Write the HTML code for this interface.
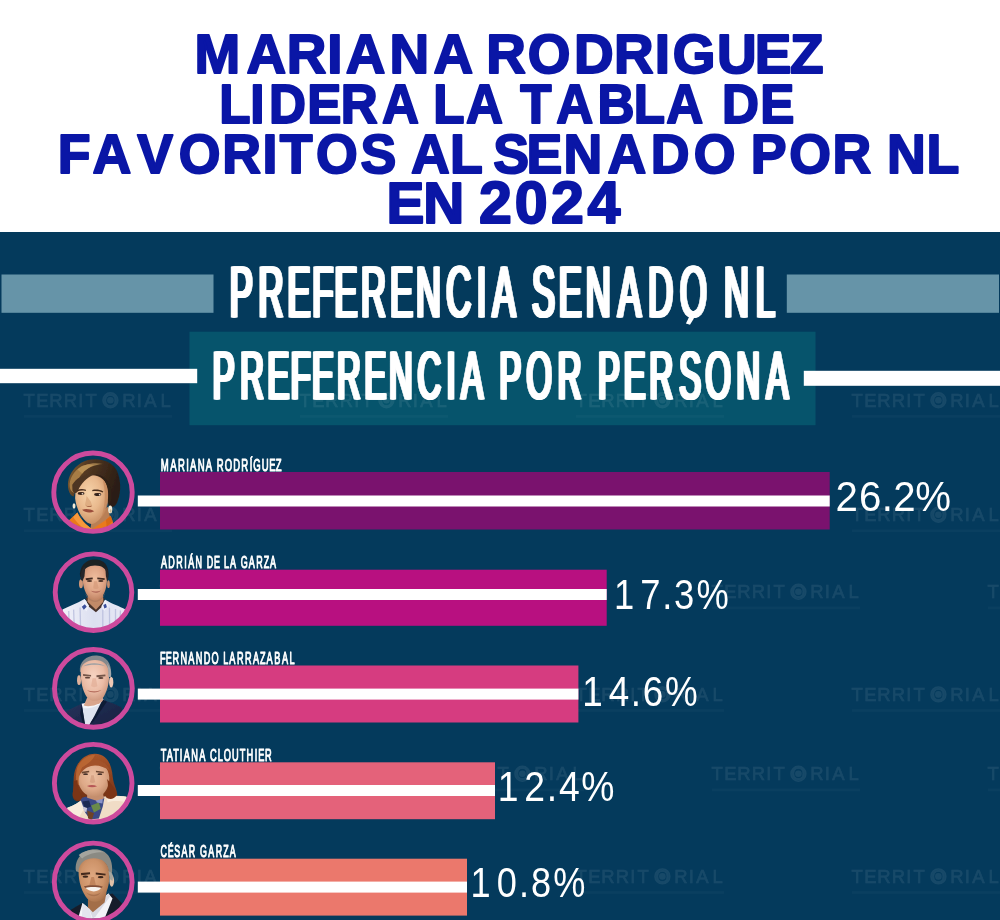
<!DOCTYPE html>
<html lang="es"><head><meta charset="utf-8"><title>Preferencia Senado NL</title>
<style>
html,body{margin:0;padding:0;background:#fff}
body{width:1000px;height:920px;overflow:hidden}
svg{display:block;font-family:"Liberation Sans",sans-serif}
</style></head><body>
<svg width="1000" height="920" viewBox="0 0 1000 920">
<defs><filter id="soft" x="-5%" y="-5%" width="110%" height="110%"><feGaussianBlur stdDeviation="0.55"/></filter>
<clipPath id="cp1"><circle cx="93" cy="492.2" r="37.5"/></clipPath>
<clipPath id="cp2"><circle cx="93.5" cy="592.2" r="37.5"/></clipPath>
<clipPath id="cp3"><circle cx="93.4" cy="688.4" r="37.5"/></clipPath>
<clipPath id="cp4"><circle cx="93.2" cy="783.2" r="37.5"/></clipPath>
<clipPath id="cp5"><circle cx="93.2" cy="882" r="37.5"/></clipPath>
</defs>
<rect x="0" y="232" width="1000" height="688" fill="#043a5c"/>
<text transform="translate(0,72.60) scale(0.9727,1)" x="199.9 253.3 294.7 336.5 355.4 400.4 445.6 445.6 499.9 542.6 590.2 631.2 673.1 691.6 737.2 776.0 812.3" font-size="56.44" font-weight="700" fill="#0a16a6" stroke="#0a16a6" stroke-width="2.0" stroke-linejoin="round" style="vector-effect:non-scaling-stroke">MARIANA RODRIGUEZ</text>
<text transform="translate(0,122.60) scale(0.9064,1)" x="242.0 276.1 296.9 339.0 375.9 421.5 421.5 478.0 514.0 514.0 573.9 613.8 659.2 699.3 735.2 735.2 796.6 838.7" font-size="56.44" font-weight="700" fill="#0a16a6" stroke="#0a16a6" stroke-width="2.0" stroke-linejoin="round" style="vector-effect:non-scaling-stroke">LIDERA LA TABLA DE</text>
<text transform="translate(0,172.60) scale(0.9515,1)" x="60.8 97.3 144.2 188.0 233.5 276.0 294.1 332.0 378.8 378.8 432.0 472.9 472.9 518.3 553.4 592.3 638.5 684.0 729.1 729.1 789.1 829.5 875.0 875.0 932.2 973.7" font-size="56.44" font-weight="700" fill="#0a16a6" stroke="#0a16a6" stroke-width="2.0" stroke-linejoin="round" style="vector-effect:non-scaling-stroke">FAVORITOS AL SENADO POR NL</text>
<text transform="translate(0,222.60) scale(1.0065,1)" x="384.0 420.6 420.6 476.0 511.4 547.5 583.7" font-size="56.44" font-weight="700" fill="#0a16a6" stroke="#0a16a6" stroke-width="2.0" stroke-linejoin="round" style="vector-effect:non-scaling-stroke">EN <tspan font-size="58.78">2024</tspan></text>
<rect x="1.5" y="274.5" width="212" height="38.3" fill="#6694a8"/>
<rect x="786.8" y="274.5" width="212.2" height="38.3" fill="#6694a8"/>
<rect x="189.5" y="331.7" width="626" height="93.5" fill="#06546c"/>
<g opacity="0.075"><text x="29.2 42.4 56.0 70.4 80.8 91.2 110.4 128.8 139.2 150.4 165.6" y="406.6" text-anchor="middle" font-size="18.4" fill="#fff" stroke="#fff" stroke-width="0.6">TERRITORIAL</text><circle cx="110.4" cy="400.3" r="7.4" fill="none" stroke="#fff" stroke-width="1.6"/><circle cx="110.4" cy="400.3" r="3.3" fill="#fff"/><rect x="24" y="415.1" width="148" height="2.6" fill="#fff" fill-opacity="0.35"/><text x="305.2 318.4 332.0 346.4 356.8 367.2 386.4 404.8 415.2 426.4 441.6" y="406.6" text-anchor="middle" font-size="18.4" fill="#fff" stroke="#fff" stroke-width="0.6">TERRITORIAL</text><circle cx="386.4" cy="400.3" r="7.4" fill="none" stroke="#fff" stroke-width="1.6"/><circle cx="386.4" cy="400.3" r="3.3" fill="#fff"/><rect x="300" y="415.1" width="148" height="2.6" fill="#fff" fill-opacity="0.35"/><text x="581.2 594.4 608.0 622.4 632.8 643.2 662.4 680.8 691.2 702.4 717.6" y="406.6" text-anchor="middle" font-size="18.4" fill="#fff" stroke="#fff" stroke-width="0.6">TERRITORIAL</text><circle cx="662.4" cy="400.3" r="7.4" fill="none" stroke="#fff" stroke-width="1.6"/><circle cx="662.4" cy="400.3" r="3.3" fill="#fff"/><rect x="576" y="415.1" width="148" height="2.6" fill="#fff" fill-opacity="0.35"/><text x="857.2 870.4 884.0 898.4 908.8 919.2 938.4 956.8 967.2 978.4 993.6" y="406.6" text-anchor="middle" font-size="18.4" fill="#fff" stroke="#fff" stroke-width="0.6">TERRITORIAL</text><circle cx="938.4" cy="400.3" r="7.4" fill="none" stroke="#fff" stroke-width="1.6"/><circle cx="938.4" cy="400.3" r="3.3" fill="#fff"/><rect x="852" y="415.1" width="148" height="2.6" fill="#fff" fill-opacity="0.35"/><text x="29.2 42.4 56.0 70.4 80.8 91.2 110.4 128.8 139.2 150.4 165.6" y="521.0" text-anchor="middle" font-size="18.4" fill="#fff" stroke="#fff" stroke-width="0.6">TERRITORIAL</text><circle cx="110.4" cy="514.7" r="7.4" fill="none" stroke="#fff" stroke-width="1.6"/><circle cx="110.4" cy="514.7" r="3.3" fill="#fff"/><rect x="24" y="529.5" width="148" height="2.6" fill="#fff" fill-opacity="0.35"/><text x="857.2 870.4 884.0 898.4 908.8 919.2 938.4 956.8 967.2 978.4 993.6" y="521.0" text-anchor="middle" font-size="18.4" fill="#fff" stroke="#fff" stroke-width="0.6">TERRITORIAL</text><circle cx="938.4" cy="514.7" r="7.4" fill="none" stroke="#fff" stroke-width="1.6"/><circle cx="938.4" cy="514.7" r="3.3" fill="#fff"/><rect x="852" y="529.5" width="148" height="2.6" fill="#fff" fill-opacity="0.35"/><text x="165.2 178.4 192.0 206.4 216.8 227.2 246.4 264.8 275.2 286.4 301.6" y="598.1" text-anchor="middle" font-size="18.4" fill="#fff" stroke="#fff" stroke-width="0.6">TERRITORIAL</text><circle cx="246.4" cy="591.8" r="7.4" fill="none" stroke="#fff" stroke-width="1.6"/><circle cx="246.4" cy="591.8" r="3.3" fill="#fff"/><rect x="160" y="606.6" width="148" height="2.6" fill="#fff" fill-opacity="0.35"/><text x="441.2 454.4 468.0 482.4 492.8 503.2 522.4 540.8 551.2 562.4 577.6" y="598.1" text-anchor="middle" font-size="18.4" fill="#fff" stroke="#fff" stroke-width="0.6">TERRITORIAL</text><circle cx="522.4" cy="591.8" r="7.4" fill="none" stroke="#fff" stroke-width="1.6"/><circle cx="522.4" cy="591.8" r="3.3" fill="#fff"/><rect x="436" y="606.6" width="148" height="2.6" fill="#fff" fill-opacity="0.35"/><text x="717.2 730.4 744.0 758.4 768.8 779.2 798.4 816.8 827.2 838.4 853.6" y="598.1" text-anchor="middle" font-size="18.4" fill="#fff" stroke="#fff" stroke-width="0.6">TERRITORIAL</text><circle cx="798.4" cy="591.8" r="7.4" fill="none" stroke="#fff" stroke-width="1.6"/><circle cx="798.4" cy="591.8" r="3.3" fill="#fff"/><rect x="712" y="606.6" width="148" height="2.6" fill="#fff" fill-opacity="0.35"/><text x="993.2 1006.4 1020.0 1034.4 1044.8 1055.2 1074.4 1092.8 1103.2 1114.4 1129.6" y="598.1" text-anchor="middle" font-size="18.4" fill="#fff" stroke="#fff" stroke-width="0.6">TERRITORIAL</text><circle cx="1074.4" cy="591.8" r="7.4" fill="none" stroke="#fff" stroke-width="1.6"/><circle cx="1074.4" cy="591.8" r="3.3" fill="#fff"/><rect x="988" y="606.6" width="148" height="2.6" fill="#fff" fill-opacity="0.35"/><text x="29.2 42.4 56.0 70.4 80.8 91.2 110.4 128.8 139.2 150.4 165.6" y="700.7" text-anchor="middle" font-size="18.4" fill="#fff" stroke="#fff" stroke-width="0.6">TERRITORIAL</text><circle cx="110.4" cy="694.4" r="7.4" fill="none" stroke="#fff" stroke-width="1.6"/><circle cx="110.4" cy="694.4" r="3.3" fill="#fff"/><rect x="24" y="709.2" width="148" height="2.6" fill="#fff" fill-opacity="0.35"/><text x="305.2 318.4 332.0 346.4 356.8 367.2 386.4 404.8 415.2 426.4 441.6" y="700.7" text-anchor="middle" font-size="18.4" fill="#fff" stroke="#fff" stroke-width="0.6">TERRITORIAL</text><circle cx="386.4" cy="694.4" r="7.4" fill="none" stroke="#fff" stroke-width="1.6"/><circle cx="386.4" cy="694.4" r="3.3" fill="#fff"/><rect x="300" y="709.2" width="148" height="2.6" fill="#fff" fill-opacity="0.35"/><text x="581.2 594.4 608.0 622.4 632.8 643.2 662.4 680.8 691.2 702.4 717.6" y="700.7" text-anchor="middle" font-size="18.4" fill="#fff" stroke="#fff" stroke-width="0.6">TERRITORIAL</text><circle cx="662.4" cy="694.4" r="7.4" fill="none" stroke="#fff" stroke-width="1.6"/><circle cx="662.4" cy="694.4" r="3.3" fill="#fff"/><rect x="576" y="709.2" width="148" height="2.6" fill="#fff" fill-opacity="0.35"/><text x="857.2 870.4 884.0 898.4 908.8 919.2 938.4 956.8 967.2 978.4 993.6" y="700.7" text-anchor="middle" font-size="18.4" fill="#fff" stroke="#fff" stroke-width="0.6">TERRITORIAL</text><circle cx="938.4" cy="694.4" r="7.4" fill="none" stroke="#fff" stroke-width="1.6"/><circle cx="938.4" cy="694.4" r="3.3" fill="#fff"/><rect x="852" y="709.2" width="148" height="2.6" fill="#fff" fill-opacity="0.35"/><text x="165.2 178.4 192.0 206.4 216.8 227.2 246.4 264.8 275.2 286.4 301.6" y="780.1" text-anchor="middle" font-size="18.4" fill="#fff" stroke="#fff" stroke-width="0.6">TERRITORIAL</text><circle cx="246.4" cy="773.8" r="7.4" fill="none" stroke="#fff" stroke-width="1.6"/><circle cx="246.4" cy="773.8" r="3.3" fill="#fff"/><rect x="160" y="788.6" width="148" height="2.6" fill="#fff" fill-opacity="0.35"/><text x="441.2 454.4 468.0 482.4 492.8 503.2 522.4 540.8 551.2 562.4 577.6" y="780.1" text-anchor="middle" font-size="18.4" fill="#fff" stroke="#fff" stroke-width="0.6">TERRITORIAL</text><circle cx="522.4" cy="773.8" r="7.4" fill="none" stroke="#fff" stroke-width="1.6"/><circle cx="522.4" cy="773.8" r="3.3" fill="#fff"/><rect x="436" y="788.6" width="148" height="2.6" fill="#fff" fill-opacity="0.35"/><text x="717.2 730.4 744.0 758.4 768.8 779.2 798.4 816.8 827.2 838.4 853.6" y="780.1" text-anchor="middle" font-size="18.4" fill="#fff" stroke="#fff" stroke-width="0.6">TERRITORIAL</text><circle cx="798.4" cy="773.8" r="7.4" fill="none" stroke="#fff" stroke-width="1.6"/><circle cx="798.4" cy="773.8" r="3.3" fill="#fff"/><rect x="712" y="788.6" width="148" height="2.6" fill="#fff" fill-opacity="0.35"/><text x="993.2 1006.4 1020.0 1034.4 1044.8 1055.2 1074.4 1092.8 1103.2 1114.4 1129.6" y="780.1" text-anchor="middle" font-size="18.4" fill="#fff" stroke="#fff" stroke-width="0.6">TERRITORIAL</text><circle cx="1074.4" cy="773.8" r="7.4" fill="none" stroke="#fff" stroke-width="1.6"/><circle cx="1074.4" cy="773.8" r="3.3" fill="#fff"/><rect x="988" y="788.6" width="148" height="2.6" fill="#fff" fill-opacity="0.35"/><text x="29.2 42.4 56.0 70.4 80.8 91.2 110.4 128.8 139.2 150.4 165.6" y="882.7" text-anchor="middle" font-size="18.4" fill="#fff" stroke="#fff" stroke-width="0.6">TERRITORIAL</text><circle cx="110.4" cy="876.4" r="7.4" fill="none" stroke="#fff" stroke-width="1.6"/><circle cx="110.4" cy="876.4" r="3.3" fill="#fff"/><rect x="24" y="891.2" width="148" height="2.6" fill="#fff" fill-opacity="0.35"/><text x="305.2 318.4 332.0 346.4 356.8 367.2 386.4 404.8 415.2 426.4 441.6" y="882.7" text-anchor="middle" font-size="18.4" fill="#fff" stroke="#fff" stroke-width="0.6">TERRITORIAL</text><circle cx="386.4" cy="876.4" r="7.4" fill="none" stroke="#fff" stroke-width="1.6"/><circle cx="386.4" cy="876.4" r="3.3" fill="#fff"/><rect x="300" y="891.2" width="148" height="2.6" fill="#fff" fill-opacity="0.35"/><text x="581.2 594.4 608.0 622.4 632.8 643.2 662.4 680.8 691.2 702.4 717.6" y="882.7" text-anchor="middle" font-size="18.4" fill="#fff" stroke="#fff" stroke-width="0.6">TERRITORIAL</text><circle cx="662.4" cy="876.4" r="7.4" fill="none" stroke="#fff" stroke-width="1.6"/><circle cx="662.4" cy="876.4" r="3.3" fill="#fff"/><rect x="576" y="891.2" width="148" height="2.6" fill="#fff" fill-opacity="0.35"/><text x="857.2 870.4 884.0 898.4 908.8 919.2 938.4 956.8 967.2 978.4 993.6" y="882.7" text-anchor="middle" font-size="18.4" fill="#fff" stroke="#fff" stroke-width="0.6">TERRITORIAL</text><circle cx="938.4" cy="876.4" r="7.4" fill="none" stroke="#fff" stroke-width="1.6"/><circle cx="938.4" cy="876.4" r="3.3" fill="#fff"/><rect x="852" y="891.2" width="148" height="2.6" fill="#fff" fill-opacity="0.35"/></g>
<rect x="0" y="368.8" width="197.2" height="14.4" fill="#fff"/>
<rect x="803.8" y="370.8" width="196.2" height="15" fill="#fff"/>
<g style="filter:drop-shadow(1.50px 0 0 #fff) drop-shadow(-1.50px 0 0 #fff)"><text transform="translate(0,316.80) scale(0.4826,1)" x="476.9 536.9 596.8 647.9 694.4 749.3 809.2 863.0 925.9 989.1 1021.5 1021.5 1103.5 1159.1 1215.0 1281.4 1344.3 1410.2 1410.2 1501.5 1567.2" font-size="71.56" font-weight="400" fill="#fff" stroke="#fff" stroke-width="0.8" stroke-linejoin="round" style="vector-effect:non-scaling-stroke">PREFERENCIA SENADO NL</text></g>
<path d="M689.3,316.5 L694,318.2 L690,324.8 L685.9,323.6 Z" fill="#fff"/>
<g style="filter:drop-shadow(1.49px 0 0 #fff) drop-shadow(-1.49px 0 0 #fff)"><text transform="translate(0,399.20) scale(0.4790,1)" x="445.4 502.5 559.6 608.2 652.5 704.7 761.8 813.0 872.9 933.1 963.9 963.9 1043.8 1100.2 1165.7 1165.7 1249.7 1303.3 1356.9 1418.9 1474.1 1538.8 1601.2" font-size="68.07" font-weight="400" fill="#fff" stroke="#fff" stroke-width="0.8" stroke-linejoin="round" style="vector-effect:non-scaling-stroke">PREFERENCIA POR PERSONA</text></g>
<rect x="160" y="472" width="669.7" height="57.5" fill="#7a126e"/>
<rect x="137.8" y="495.5" width="691.9" height="11.0" fill="#fff"/>
<text transform="translate(0,470.77) scale(0.5670,1)" x="283.5 300.4 313.9 328.3 335.3 348.6 362.8 362.8 382.5 396.4 411.2 425.7 440.6 446.8 461.6 475.0 486.4" font-size="16.80" font-weight="400" fill="#fff" stroke="#fff" stroke-width="0.85" stroke-linejoin="round" style="vector-effect:non-scaling-stroke">MARIANA RODRÍGUEZ</text>
<text transform="translate(0,510.90) scale(0.9451,1)" x="884.0 908.9 933.0 945.2 968.5" font-size="42.58" font-weight="400" fill="#fff">26.2%</text>
<g clip-path="url(#cp1)"><g filter="url(#soft)"><g transform="translate(48,447) scale(0.09783)"><defs>
<radialGradient id="f1" cx="0.42" cy="0.38" r="0.65"><stop offset="0" stop-color="#f6d3aa"/><stop offset="0.55" stop-color="#e9b98d"/><stop offset="1" stop-color="#c88e62"/></radialGradient>
<linearGradient id="h1" x1="0" y1="0" x2="1" y2="0.3"><stop offset="0" stop-color="#8a6636"/><stop offset="0.35" stop-color="#553a22"/><stop offset="1" stop-color="#2b1d14"/></linearGradient>
</defs>
<path d="M210,440 C185,340 235,225 340,160 C450,100 630,115 700,235 C745,320 750,450 715,545 C700,600 665,625 625,615 L580,430 L300,390 L262,505 C235,500 218,475 210,440 Z" fill="url(#h1)"/>
<path d="M222,410 C212,330 262,245 345,195 C390,175 430,175 470,185 C400,215 340,270 305,340 C285,385 280,430 268,470 C240,460 226,440 222,410 Z" fill="#a67c44"/>
<path d="M300,230 C360,175 470,150 560,175 C480,180 400,215 350,270 Z" fill="#c29a5c" opacity="0.7"/>
<path d="M445,760 L612,610 L650,790 L570,870 L430,860 Z" fill="#b97f55"/>
<path d="M283,430 C288,345 345,285 445,288 C540,290 600,345 613,430 C624,520 602,635 545,715 C505,775 445,805 405,775 C335,722 287,620 277,525 Z" fill="url(#f1)"/>
<path d="M560,330 C612,380 630,470 612,580 C600,640 570,700 540,730 C575,640 590,520 575,420 Z" fill="#c58a5e" opacity="0.75"/>
<path d="M248,385 C295,310 375,272 470,282 C400,312 335,372 305,452 C285,482 262,475 250,445 Z" fill="#4d3522"/>
<path d="M470,282 C540,275 610,320 640,400 C660,470 655,540 635,585 C620,575 612,560 613,540 C622,460 610,380 560,320 C535,300 505,288 470,282 Z" fill="#2f2016"/>
<path d="M296,440 C325,425 360,425 388,436 L386,449 C355,442 325,443 298,455 Z" fill="#4a2f1e"/>
<path d="M452,440 C490,430 530,435 565,455 L560,466 C525,452 490,448 454,453 Z" fill="#4a2f1e"/>
<ellipse cx="338" cy="476" rx="34" ry="15" fill="#33211a"/>
<ellipse cx="508" cy="486" rx="36" ry="15" fill="#33211a"/>
<ellipse cx="352" cy="478" rx="9" ry="7" fill="#f3e6d8"/>
<ellipse cx="528" cy="488" rx="9" ry="7" fill="#f3e6d8"/>
<path d="M395,500 C390,540 380,575 378,595 C395,612 430,612 452,598 C445,585 440,570 438,560 Z" fill="#dba77c" opacity="0.8"/>
<path d="M385,598 C405,606 430,606 448,598 L444,610 C425,617 402,616 385,598 Z" fill="#a86a48"/>
<path d="M348,642 C385,628 440,636 472,656 C435,678 382,674 348,642 Z" fill="#9c4e3a"/>
<ellipse cx="266" cy="603" rx="15" ry="27" fill="#f2ead6"/>
<ellipse cx="636" cy="638" rx="21" ry="40" fill="#f2ead6"/>
<ellipse cx="640" cy="655" rx="10" ry="18" fill="#c9b68e"/>
<path d="M212,752 L300,670 C332,742 392,802 452,838 L592,745 L640,702 L672,792 L640,905 L250,905 Z" fill="#ea7a1e"/>
<path d="M300,670 C332,742 392,802 452,838 L432,872 C352,832 290,772 258,715 Z" fill="#f7983a"/>
<path d="M592,745 L640,702 L660,760 L600,820 Z" fill="#d96a14"/></g></g></g>
<circle cx="93" cy="492.2" r="39.2" fill="none" stroke="#cd4a9d" stroke-width="4.9"/>
<rect x="160" y="569.7" width="446.7" height="56.1" fill="#b81080"/>
<rect x="137.8" y="589" width="468.9" height="11.0" fill="#fff"/>
<text transform="translate(0,567.78) scale(0.5345,1)" x="301.3 315.0 329.9 344.7 352.0 365.6 365.6 386.6 400.3 400.3 419.0 430.4 430.4 450.3 465.4 479.3 493.4 505.3" font-size="16.80" font-weight="400" fill="#fff" stroke="#fff" stroke-width="0.85" stroke-linejoin="round" style="vector-effect:non-scaling-stroke">ADRIÁN DE LA GARZA</text>
<text transform="translate(0,608.90) scale(0.8597,1)" x="714.2 744.6 770.4 784.1 810.1" font-size="42.29" font-weight="400" fill="#fff">17.3%</text>
<g clip-path="url(#cp2)"><g filter="url(#soft)"><g transform="translate(48,547) scale(0.09783)"><defs>
<radialGradient id="f2" cx="0.5" cy="0.4" r="0.62"><stop offset="0" stop-color="#efbf9f"/><stop offset="0.6" stop-color="#dfa586"/><stop offset="1" stop-color="#bf8262"/></radialGradient>
<linearGradient id="s2" x1="0" y1="0" x2="1" y2="0"><stop offset="0" stop-color="#f4f4fb"/><stop offset="0.5" stop-color="#dcdff0"/><stop offset="1" stop-color="#e9eaf6"/></linearGradient>
</defs>
<path d="M110,920 L148,640 C220,600 300,578 372,532 L482,640 L586,538 C660,585 730,600 792,640 L830,920 Z" fill="url(#s2)"/>
<path d="M262,640 L270,870 M328,618 L334,870 M212,655 L216,830 M560,640 L560,870 M628,620 L630,870 M690,635 L690,830 M740,650 L738,790" stroke="#b5badb" stroke-width="13" fill="none" opacity="0.8"/>
<path d="M384,518 L578,522 L562,600 L490,668 L408,602 Z" fill="#45302a"/>
<path d="M412,470 L560,470 L566,560 L490,642 L404,560 Z" fill="#c18a68"/>
<path d="M372,532 L420,600 L395,660 L340,610 Z" fill="#eef0fa"/>
<path d="M586,538 L545,605 L575,655 L620,600 Z" fill="#eef0fa"/>
<path d="M345,612 L376,586 L396,610 L366,642 Z" fill="#3a4f9c"/>
<path d="M566,592 L592,580 L602,616 L576,628 Z" fill="#3a4f9c"/>
<path d="M328,310 C315,205 378,128 480,128 C582,128 632,200 616,318 L592,262 C542,216 420,216 364,262 Z" fill="#1d2024"/>
<path d="M354,282 C358,215 420,188 480,188 C552,188 602,220 602,292 C607,382 592,452 552,512 C522,552 450,552 414,512 C374,462 350,382 354,282 Z" fill="url(#f2)"/>
<ellipse cx="337" cy="376" rx="20" ry="46" fill="#d09677"/>
<ellipse cx="618" cy="380" rx="14" ry="40" fill="#c68c6c"/>
<path d="M384,320 L456,312 L458,330 L388,340 Z" fill="#3f2a20"/>
<path d="M504,312 L580,320 L578,338 L504,330 Z" fill="#3f2a20"/>
<ellipse cx="424" cy="348" rx="27" ry="10" fill="#4a3026"/>
<ellipse cx="540" cy="348" rx="27" ry="10" fill="#4a3026"/>
<path d="M470,350 L462,420 C475,432 505,432 518,420 L500,350 Z" fill="#d79c7c" opacity="0.8"/>
<path d="M438,448 C470,458 512,458 542,444 C516,474 464,476 438,448 Z" fill="#ad6656"/>
<path d="M334,334 C333,252 350,214 382,198 L373,300 L352,348 Z" fill="#26272a"/>
<path d="M613,334 C620,262 606,220 585,200 L592,300 L604,348 Z" fill="#26272a"/>
<path d="M380,470 C410,520 450,545 482,548 C520,545 560,520 585,462 C570,530 530,560 482,562 C436,560 396,530 380,470 Z" fill="#a8755c" opacity="0.55"/></g></g></g>
<circle cx="93.5" cy="592.2" r="38.3" fill="none" stroke="#cd4a9d" stroke-width="4.9"/>
<rect x="160" y="665.5" width="418.4" height="57.0" fill="#d63c80"/>
<rect x="137.8" y="688.6" width="440.6" height="11.0" fill="#fff"/>
<text transform="translate(0,664.28) scale(0.5399,1)" x="296.3 307.0 319.5 334.2 348.9 362.6 377.2 391.7 391.7 413.4 424.8 438.8 453.7 468.6 481.7 493.8 508.2 522.5 536.1" font-size="16.95" font-weight="400" fill="#fff" stroke="#fff" stroke-width="0.85" stroke-linejoin="round" style="vector-effect:non-scaling-stroke">FERNANDO LARRAZABAL</text>
<text transform="translate(0,705.80) scale(0.8738,1)" x="666.4 696.7 721.9 735.6 761.0" font-size="42.15" font-weight="400" fill="#fff">14.6%</text>
<g clip-path="url(#cp3)"><g filter="url(#soft)"><g transform="translate(48,643) scale(0.09783)"><defs>
<radialGradient id="f3" cx="0.45" cy="0.4" r="0.62"><stop offset="0" stop-color="#f6d4c2"/><stop offset="0.6" stop-color="#ebbca6"/><stop offset="1" stop-color="#cf987f"/></radialGradient>
<linearGradient id="j3" x1="0" y1="0" x2="1" y2="1"><stop offset="0" stop-color="#26355e"/><stop offset="1" stop-color="#141d3a"/></linearGradient>
</defs>
<path d="M160,920 L182,702 C250,660 310,640 360,610 L420,700 L560,578 C640,610 702,630 752,660 L810,920 Z" fill="url(#j3)"/>
<path d="M345,620 L560,568 L586,600 L442,800 L420,842 L375,832 Z" fill="#dfe4f0"/>
<path d="M345,620 C400,640 500,610 560,568 L560,600 C510,652 420,672 360,666 Z" fill="#f4f5fa"/>
<path d="M560,574 L602,600 L472,792 L430,834 Z" fill="#111a36"/>
<path d="M345,625 L328,722 L360,834 L380,834 Z" fill="#111a36"/>
<path d="M400,560 L560,540 L560,590 C510,640 420,655 365,640 Z" fill="#d9a58d"/>
<path d="M326,292 C316,190 398,122 500,128 C592,134 652,200 646,332 L612,302 C592,222 562,190 480,184 C400,184 350,230 344,302 Z" fill="#85898d"/>
<path d="M334,290 C334,214 400,174 480,174 C560,174 616,220 621,300 C631,380 616,470 571,546 C531,602 440,606 400,556 C350,490 334,390 334,290 Z" fill="url(#f3)"/>
<ellipse cx="317" cy="380" rx="20" ry="50" fill="#e2b19a"/>
<ellipse cx="646" cy="400" rx="22" ry="56" fill="#efc8b4"/>
<path d="M358,318 L440,326 L440,343 L360,338 Z" fill="#74564a"/>
<path d="M495,330 L586,322 L588,340 L497,349 Z" fill="#74564a"/>
<ellipse cx="404" cy="354" rx="27" ry="10" fill="#5e4238"/>
<ellipse cx="540" cy="358" rx="27" ry="10" fill="#5e4238"/>
<path d="M455,360 L440,440 C455,455 490,455 505,440 L490,360 Z" fill="#e3b09a" opacity="0.8"/>
<path d="M398,482 C440,497 500,497 546,480 C510,512 440,514 398,482 Z" fill="#b46c5c"/>
<path d="M600,208 C642,250 652,300 642,352 L616,342 C621,290 616,250 600,208 Z" fill="#a3a7ab"/>
<path d="M360,240 C410,200 520,195 590,240 C540,215 420,215 360,240 Z" fill="#9b9fa3"/></g></g></g>
<circle cx="93.4" cy="688.4" r="38.9" fill="none" stroke="#cd4a9d" stroke-width="4.9"/>
<rect x="160" y="762.3" width="335.0" height="56.9" fill="#e4627a"/>
<rect x="137.8" y="785" width="357.2" height="11.0" fill="#fff"/>
<text transform="translate(0,760.78) scale(0.5498,1)" x="292.3 303.2 315.0 327.0 334.2 347.7 362.2 362.2 382.0 396.2 406.8 422.1 436.1 448.5 463.5 469.6 482.0" font-size="16.80" font-weight="400" fill="#fff" stroke="#fff" stroke-width="0.85" stroke-linejoin="round" style="vector-effect:non-scaling-stroke">TATIANA CLOUTHIER</text>
<text transform="translate(0,800.90) scale(0.8820,1)" x="564.4 594.5 619.9 633.7 658.9" font-size="42.29" font-weight="400" fill="#fff">12.4%</text>
<g clip-path="url(#cp4)"><g filter="url(#soft)"><g transform="translate(48,738) scale(0.09783)"><defs>
<radialGradient id="f4" cx="0.48" cy="0.42" r="0.62"><stop offset="0" stop-color="#ecc0a2"/><stop offset="0.6" stop-color="#dea988"/><stop offset="1" stop-color="#c08a68"/></radialGradient>
<linearGradient id="h4" x1="0" y1="0" x2="0" y2="1"><stop offset="0" stop-color="#a9562a"/><stop offset="0.5" stop-color="#8e421e"/><stop offset="1" stop-color="#6e3016"/></linearGradient>
</defs>
<path d="M262,420 C268,270 358,160 480,160 C602,160 652,270 662,400 C672,480 704,520 708,582 C692,644 640,644 600,622 L330,642 C280,662 243,622 253,560 C268,500 260,470 262,420 Z" fill="url(#h4)"/>
<path d="M170,920 L198,712 C260,690 320,660 370,610 L560,600 C640,588 730,588 802,600 L840,920 Z" fill="#f0dcc6"/>
<path d="M198,712 C260,690 320,660 370,610 L382,700 L322,802 L198,802 Z" fill="#f8ecdc"/>
<path d="M600,610 C660,598 740,592 802,600 L800,660 C730,640 660,640 610,660 Z" fill="#f8ecdc"/>
<path d="M330,620 C380,590 500,590 576,610 L560,700 L520,822 L430,832 L380,762 Z" fill="#3b4a86"/>
<path d="M350,650 L420,640 L440,700 L380,722 Z" fill="#1f2a52"/>
<path d="M440,690 L520,660 L540,722 L470,762 Z" fill="#6a8a4a"/>
<path d="M400,740 L470,770 L450,832 L410,822 Z" fill="#6e4226"/>
<path d="M480,620 L560,620 L556,670 L500,660 Z" fill="#8a93c8"/>
<path d="M356,700 L400,715 L392,760 L368,745 Z" fill="#c9c6d8"/>
<path d="M400,540 L560,540 L570,620 L490,640 L400,610 Z" fill="#c48e6e"/>
<path d="M304,400 C304,300 380,238 470,243 C560,243 621,310 626,400 C631,470 601,542 551,582 C501,612 430,607 384,572 C334,532 304,470 304,400 Z" fill="url(#f4)"/>
<path d="M296,390 C306,282 380,222 470,222 C542,222 604,258 634,334 C572,292 500,270 440,286 C380,300 335,344 302,420 Z" fill="#a3532a"/>
<path d="M300,300 C340,205 420,172 480,170 C460,230 400,268 350,300 C322,340 312,420 316,480 L286,470 C284,400 284,350 300,300 Z" fill="#bd6a34" opacity="0.85"/>
<path d="M344,346 L420,336 L422,351 L347,363 Z" fill="#6a4632"/>
<path d="M490,336 L571,346 L569,361 L490,351 Z" fill="#6a4632"/>
<ellipse cx="384" cy="370" rx="25" ry="9" fill="#46302a"/>
<ellipse cx="530" cy="370" rx="25" ry="9" fill="#46302a"/>
<path d="M442,380 L428,450 C440,462 470,462 482,450 L468,380 Z" fill="#d39e80" opacity="0.8"/>
<path d="M398,490 C430,478 470,478 502,492 C470,508 430,508 398,490 Z" fill="#b65656"/>
<path d="M602,420 C642,460 692,520 704,582 C672,632 620,632 590,602 C612,540 622,480 602,420 Z" fill="#7c3618"/>
<path d="M262,440 C262,520 250,560 256,600 C280,640 320,640 345,620 C320,560 305,500 300,430 Z" fill="#7c3618"/></g></g></g>
<circle cx="93.2" cy="783.2" r="38.8" fill="none" stroke="#cd4a9d" stroke-width="4.9"/>
<rect x="160" y="858.7" width="307.0" height="56.9" fill="#eb786c"/>
<rect x="137.8" y="881.6" width="329.2" height="11.0" fill="#fff"/>
<text transform="translate(0,857.28) scale(0.5272,1)" x="304.6 318.3 330.7 344.1 358.2 358.2 379.6 394.9 409.1 423.4 435.6" font-size="16.80" font-weight="400" fill="#fff" stroke="#fff" stroke-width="0.85" stroke-linejoin="round" style="vector-effect:non-scaling-stroke">CÉSAR GARZA</text>
<text transform="translate(0,896.90) scale(0.8553,1)" x="550.1 580.9 606.7 620.7 646.8" font-size="42.29" font-weight="400" fill="#fff">10.8%</text>
<g clip-path="url(#cp5)"><g filter="url(#soft)"><g transform="translate(49.8,830) scale(0.09783)"><defs>
<radialGradient id="f5" cx="0.45" cy="0.42" r="0.62"><stop offset="0" stop-color="#dfa880"/><stop offset="0.6" stop-color="#cd9369"/><stop offset="1" stop-color="#a9724c"/></radialGradient>
</defs>
<path d="M140,920 L218,812 C270,780 310,760 340,740 L420,880 L600,660 L640,650 C690,700 730,740 762,780 L810,920 Z" fill="#191e2a"/>
<path d="M298,872 L334,745 L400,800 L600,650 L641,700 L560,905 L298,905 Z" fill="#f3f3f7"/>
<path d="M400,800 L600,650 L616,680 L470,882 L440,905 Z" fill="#d9dae4"/>
<path d="M334,745 L400,800 L430,905 L328,905 Z" fill="#e4e4ee"/>
<path d="M390,700 L580,640 L560,742 L440,842 L390,790 Z" fill="#a36e4a"/>
<path d="M268,422 C248,300 340,198 460,198 C580,198 652,290 636,442 L600,420 C590,340 540,300 450,300 C370,300 320,340 300,432 Z" fill="#8a8a83"/>
<path d="M296,255 C360,200 470,188 562,230 C500,224 400,236 330,292 Z" fill="#a5a59e"/>
<path d="M294,430 C294,340 360,288 450,288 C540,288 601,340 606,430 C616,520 596,622 551,692 C511,742 430,747 384,702 C330,642 294,530 294,430 Z" fill="url(#f5)"/>
<ellipse cx="633" cy="520" rx="24" ry="60" fill="#e0c0a8"/>
<path d="M318,440 L410,432 L412,452 L321,463 Z" fill="#44291c"/>
<path d="M470,435 L571,446 L569,466 L470,456 Z" fill="#44291c"/>
<ellipse cx="364" cy="477" rx="29" ry="11" fill="#3a251a"/>
<ellipse cx="520" cy="482" rx="29" ry="11" fill="#3a251a"/>
<path d="M425,480 L405,562 C420,575 455,575 470,560 L452,480 Z" fill="#bd8058" opacity="0.85"/>
<path d="M362,586 C400,575 482,575 528,586 C502,642 400,642 362,586 Z" fill="#f7f3ef"/>
<path d="M347,576 C400,560 492,560 543,580 L528,592 C482,579 400,579 364,592 Z" fill="#835038"/>
<path d="M372,640 C420,668 480,668 520,640 C500,690 400,690 372,640 Z" fill="#9a6444" opacity="0.6"/>
<path d="M600,420 C642,430 652,470 641,522 L612,500 Z" fill="#a5a59e"/></g></g></g>
<circle cx="93.2" cy="882" r="38.9" fill="none" stroke="#cd4a9d" stroke-width="4.9"/>
</svg>
</body></html>
